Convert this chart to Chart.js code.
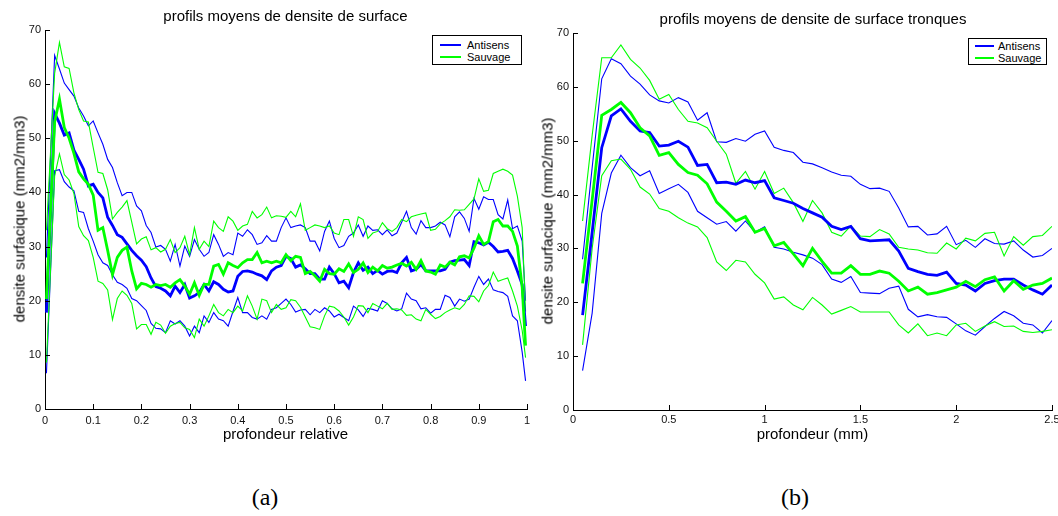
<!DOCTYPE html>
<html>
<head>
<meta charset="utf-8">
<script src="https://cdn.jsdelivr.net/npm/chart.js@4.4.1/dist/chart.umd.min.js"></script>
<style>
  html, body { margin: 0; padding: 0; background: #fff; }
  body { width: 1058px; height: 516px; overflow: hidden; position: relative;
         font-family: 'Liberation Sans', Arial, sans-serif; color: #000; }
  canvas { position: absolute; top: 0; }
  #chart-a { left: 0; }
  #chart-b { left: 548px; }
  .title, .xlabel { position: absolute; white-space: nowrap; font-size: 15px; line-height: 15px; transform: translateX(-50%); }
  .ylabel { position: absolute; white-space: nowrap; font-size: 15px; line-height: 15px; transform: translate(-50%, -50%) rotate(-90deg); }
  .caption { position: absolute; font-family: 'Liberation Serif', 'DejaVu Serif', serif; font-size: 24px; line-height: 24px; transform: translateX(-50%); }
  .legend { position: absolute; box-sizing: border-box; border: 1px solid #000; background: #fff; font-size: 11px; }
  .legend .ln { position: absolute; height: 2px; }
  .legend .tx { position: absolute; line-height: 12px; white-space: nowrap; }
</style>
</head>
<body>
<canvas id="chart-a" width="548" height="450"></canvas>
<canvas id="chart-b" width="520" height="450"></canvas>

<div class="title" style="left:285.5px;top:8px">profils moyens de densite de surface</div>
<div class="title" style="left:813px;top:11px">profils moyens de densite de surface tronques</div>
<div class="xlabel" style="left:285.5px;top:426px">profondeur relative</div>
<div class="xlabel" style="left:812.5px;top:426px">profondeur (mm)</div>
<div class="ylabel" style="left:18.5px;top:219px">densite surfacique (mm2/mm3)</div>
<div class="ylabel" style="left:546.5px;top:221px">densite surfacique (mm2/mm3)</div>
<div class="caption" style="left:265px;top:485px">(a)</div>
<div class="caption" style="left:795px;top:485px">(b)</div>

<div class="legend" style="left:432px;top:35px;width:90px;height:30px">
  <div class="ln" style="left:7px;width:21px;top:8px;background:#0000ff"></div>
  <div class="tx" style="left:34px;top:3px">Antisens</div>
  <div class="ln" style="left:7px;width:21px;top:20px;background:#00ff00"></div>
  <div class="tx" style="left:34px;top:15px">Sauvage</div>
</div>
<div class="legend" style="left:968px;top:38px;width:79px;height:27px">
  <div class="ln" style="left:6px;width:19px;top:6px;background:#0000ff"></div>
  <div class="tx" style="left:29px;top:1px">Antisens</div>
  <div class="ln" style="left:6px;width:19px;top:18px;background:#00ff00"></div>
  <div class="tx" style="left:29px;top:13px">Sauvage</div>
</div>

<script>
'use strict';

// ── (a) profondeur relative ──────────────────────────────────────────────────
const profRel = [
  0.003, 0.02, 0.03, 0.04, 0.05, 0.06, 0.07, 0.08, 0.09, 0.10,
  0.11, 0.12, 0.13, 0.14, 0.15, 0.16, 0.17, 0.18, 0.19, 0.20,
  0.21, 0.22, 0.23, 0.24, 0.25, 0.26, 0.27, 0.28, 0.29, 0.30,
  0.31, 0.32, 0.33, 0.34, 0.35, 0.36, 0.37, 0.38, 0.39, 0.40,
  0.41, 0.42, 0.43, 0.44, 0.45, 0.46, 0.47, 0.48, 0.49, 0.50,
  0.51, 0.52, 0.53, 0.54, 0.55, 0.56, 0.57, 0.58, 0.59, 0.60,
  0.61, 0.62, 0.63, 0.64, 0.65, 0.66, 0.67, 0.68, 0.69, 0.70,
  0.71, 0.72, 0.73, 0.74, 0.75, 0.76, 0.77, 0.78, 0.79, 0.80,
  0.81, 0.82, 0.83, 0.84, 0.85, 0.86, 0.87, 0.88, 0.89, 0.90,
  0.91, 0.92, 0.93, 0.94, 0.95, 0.96, 0.97, 0.98, 0.99, 0.997
];
const relAntisensHaut = [
  28, 65.3, 62.8, 60.2, 59.0, 57.8, 55.6, 54.1, 52.3, 53.2,
  51.0, 48.9, 46.1, 44.6, 41.8, 39.4, 40.0, 40.0, 37.5, 36.6,
  33.9, 32.6, 29.9, 30.2, 29.5, 27.3, 30.4, 26.4, 30.1, 28.2,
  31.3, 29.5, 28.2, 28.9, 32.2, 30.4, 28.2, 28.9, 28.5, 32.5,
  31.9, 33.1, 32.2, 30.4, 30.7, 32.0, 31.0, 31.0, 33.5, 35.3,
  33.5, 33.8, 34.0, 33.5, 31.0, 31.0, 29.2, 32.8, 34.7, 31.5,
  29.8, 30.2, 31.9, 32.5, 34.0, 31.9, 33.8, 33.0, 33.1, 32.2,
  33.1, 32.0, 32.5, 34.5, 36.5, 33.5, 32.3, 34.8, 33.5, 33.5,
  33.8, 34.5, 34.0, 31.8, 35.5, 36.4, 35.2, 32.8, 38.9, 36.9,
  39.2, 38.7, 38.7, 35.9, 35.1, 38.6, 33.3, 33.8, 31.0, 20.0
];
const relSauvageHaut = [
  33, 62, 67.7, 63.2, 62.9, 58.4, 55.3, 53.2, 53.0, 48.3,
  43.7, 43.5, 40.5, 35.1, 36.3, 37.3, 38.5, 34.5, 30.5, 31.4,
  31.8, 29.4, 29.8, 29.0, 29.5, 31.3, 28.9, 29.8, 31.9, 28.5,
  33.5, 29.5, 31.0, 30.0, 34.7, 33.5, 32.8, 35.5, 34.7, 33.0,
  33.8, 34.1, 36.5, 35.3, 35.9, 37.3, 35.3, 35.7, 35.6, 35.4,
  36.5, 35.5, 37.9, 33.0, 33.5, 34.0, 33.8, 33.5, 33.8, 32.5,
  32.2, 35.0, 35.0, 31.9, 35.5, 35.0, 31.5, 32.5, 32.8, 34.4,
  33.3, 32.8, 33.5, 35.0, 34.6, 35.5, 35.8, 36.0, 36.2, 33.0,
  33.2, 34.2, 34.8, 35.5, 36.8, 36.7, 36.8, 37.8, 38.8, 42.5,
  40.2, 40.4, 43.5, 43.9, 44.3, 43.9, 43.2, 39.3, 33.5, 18.0
];
const relAntisensMoy = [
  17.8, 54.6, 52.8, 50.6, 51.0, 47.8, 46.1, 44.3, 41.2, 41.5,
  40.0, 39.0, 35.4, 33.9, 32.2, 31.7, 30.5, 29.3, 28.3, 27.5,
  26.3, 24.2, 22.6, 22.3, 21.8, 20.9, 22.7, 21.5, 23.0, 20.5,
  20.9, 21.5, 23.0, 21.8, 23.5, 23.0, 22.1, 21.6, 21.8, 24.5,
  25.4, 25.5, 25.3, 24.9, 24.6, 23.9, 25.5, 26.2, 26.5, 28.2,
  27.8, 26.2, 26.6, 25.9, 25.0, 25.0, 24.0, 24.0, 26.2, 25.0,
  23.3, 23.6, 22.4, 25.2, 27.0, 25.6, 26.2, 25.0, 25.6, 24.9,
  25.4, 25.5, 25.2, 27.0, 28.0, 25.5, 25.8, 26.7, 25.5, 25.5,
  25.5, 25.5, 25.8, 27.1, 27.4, 27.5, 27.6, 26.5, 30.9, 30.7,
  30.3, 30.8, 30.0, 29.0, 29.1, 29.3, 27.8, 25.5, 23.0, 15.3
];
const relSauvageMoy = [
  20.3, 53.0, 57.2, 52.0, 50.0, 47.2, 43.8, 42.5, 41.5, 39.5,
  33.0, 33.5, 29.3, 24.8, 28.0, 29.3, 29.9, 25.5, 22.2, 23.2,
  23.0, 22.5, 23.0, 22.8, 23.0, 22.5, 23.3, 23.9, 22.7, 21.2,
  23.3, 21.0, 23.0, 23.0, 26.4, 26.7, 24.9, 27.0, 26.5, 26.1,
  27.0, 27.6, 27.6, 28.9, 27.0, 27.3, 27.0, 27.3, 27.0, 28.5,
  27.4, 28.2, 28.0, 25.0, 25.4, 24.6, 23.6, 25.8, 25.0, 24.9,
  25.9, 25.4, 26.8, 25.2, 25.8, 27.0, 25.2, 26.2, 25.5, 26.5,
  26.0, 26.2, 26.6, 26.9, 26.4, 27.1, 25.8, 27.4, 25.5, 25.3,
  24.9, 26.6, 26.2, 27.1, 26.6, 28.1, 28.3, 27.9, 29.7, 32.0,
  30.4, 30.9, 34.6, 35.0, 33.8, 33.8, 32.8, 30.1, 22.5, 11.7
];
const relSauvageBas = [
  8.6, 43.0, 47.1, 43.3, 42.3, 39.8, 33.7, 32.0, 31.1, 28.0,
  23.6, 23.2, 22.0, 16.5, 20.4, 21.8, 21.0, 19.5, 14.8, 15.6,
  15.6, 13.8, 16.0, 15.5, 14.0, 15.3, 15.8, 16.0, 15.0, 14.7,
  13.2, 16.6, 15.3, 17.2, 19.3, 17.8, 17.2, 18.4, 17.8, 19.0,
  18.1, 20.9, 19.0, 16.6, 20.3, 20.0, 17.8, 19.3, 18.4, 18.7,
  20.2, 20.0, 18.8, 17.0, 15.2, 15.0, 14.7, 17.2, 19.0, 18.8,
  18.1, 17.0, 15.5, 17.0, 19.1, 19.0, 17.8, 19.5, 19.0, 18.5,
  19.5, 18.4, 18.5, 18.3, 17.3, 17.4, 16.6, 16.3, 18.4, 17.5,
  16.7, 17.1, 17.8, 18.3, 18.7, 18.4, 19.3, 20.9, 20.8, 19.8,
  21.8, 22.8, 25.3, 23.6, 23.9, 24.2, 21.8, 19.0, 14.5, 9.5
];
const relAntisensBas = [
  6.6, 44.0, 44.2, 42.0, 41.0, 40.3, 36.5, 36.3, 33.3, 31.0,
  28.5, 27.0, 26.5, 24.8, 23.4, 23.0, 22.3, 20.4, 20.0, 19.1,
  18.2, 15.8, 14.9, 14.8, 14.1, 16.3, 15.7, 16.3, 15.3, 13.5,
  15.3, 14.1, 17.2, 16.0, 17.8, 16.6, 16.3, 15.3, 18.0, 20.6,
  17.8, 17.8, 16.9, 16.6, 17.2, 16.6, 18.4, 18.7, 19.5, 20.3,
  19.3, 17.9, 18.3, 18.4, 17.4, 18.4, 17.8, 18.7, 18.1, 17.0,
  17.5, 16.9, 16.3, 19.0, 18.3, 17.1, 18.6, 18.4, 18.1, 20.0,
  19.5, 18.5, 18.1, 18.5, 21.4, 20.3, 20.0, 18.5, 18.7, 17.7,
  18.4, 18.4, 21.0, 20.6, 19.0, 20.3, 19.9, 20.3, 22.5, 24.5,
  23.0, 24.0, 22.0, 21.7, 21.5, 20.8, 17.2, 16.3, 10.5, 5.2
];

// ── (b) profondeur en mm, profils tronques ───────────────────────────────────
const profMm = [
  0.05, 0.10, 0.15, 0.20, 0.25, 0.30, 0.35, 0.40, 0.45, 0.50,
  0.55, 0.60, 0.65, 0.70, 0.75, 0.80, 0.85, 0.90, 0.95, 1.00,
  1.05, 1.10, 1.15, 1.20, 1.25, 1.30, 1.35, 1.40, 1.45, 1.50,
  1.55, 1.60, 1.65, 1.70, 1.75, 1.80, 1.85, 1.90, 1.95, 2.00,
  2.05, 2.10, 2.15, 2.20, 2.25, 2.30, 2.35, 2.40, 2.45, 2.50
];
const trAntisensHaut = [
  28.0, 45.0, 61.5, 65.2, 64.3, 62.0, 60.5, 58.5, 57.4, 57.0,
  58.0, 57.2, 53.8, 55.2, 49.8, 49.7, 50.4, 49.9, 51.2, 51.8,
  48.8, 48.2, 47.8, 46.0, 45.7, 45.0, 44.2, 43.6, 43.4, 41.9,
  41.1, 41.2, 40.6, 37.5, 34.0, 34.1, 32.5, 32.7, 34.1, 30.7,
  31.5, 30.2, 31.8, 30.9, 30.8, 31.4, 29.7, 28.4, 28.7, 30.0
];
const trSauvageHaut = [
  35.1, 51.0, 65.4, 65.4, 67.8, 65.1, 63.5, 61.2, 57.7, 58.6,
  55.8, 53.6, 53.3, 52.4, 49.9, 47.5, 42.1, 44.3, 41.0, 44.3,
  40.2, 41.2, 38.5, 35.0, 38.9, 36.6, 33.0, 32.3, 34.2, 32.3,
  32.2, 33.5, 32.7, 30.2, 29.9, 29.7, 29.2, 29.1, 31.0, 29.9,
  31.9, 31.4, 32.8, 33.0, 28.6, 32.2, 30.6, 32.2, 32.4, 34.1
];
const trAntisensMoy = [
  17.6, 33.0, 48.7, 54.6, 55.9, 53.6, 51.8, 51.5, 49.0, 49.2,
  49.9, 48.8, 45.4, 45.6, 42.2, 42.3, 41.9, 42.7, 42.2, 42.6,
  39.4, 38.9, 38.4, 37.4, 36.6, 35.8, 34.1, 33.5, 34.1, 31.8,
  31.4, 31.5, 31.6, 29.5, 26.3, 25.7, 25.2, 25.0, 25.6, 23.5,
  23.2, 22.1, 23.5, 24.0, 24.3, 24.3, 23.2, 22.3, 21.5, 23.2
];
const trSauvageMoy = [
  23.5, 39.0, 54.7, 55.8, 57.1, 55.2, 52.4, 50.9, 47.3, 47.8,
  45.6, 44.1, 43.6, 42.0, 38.6, 36.9, 35.1, 35.9, 33.0, 33.7,
  30.5, 31.1, 29.0, 26.8, 30.0, 27.6, 25.4, 25.4, 26.8, 25.2,
  25.2, 25.8, 25.4, 23.9, 22.1, 22.8, 21.5, 21.8, 22.3, 22.8,
  23.9, 22.9, 24.2, 24.7, 22.1, 24.0, 22.4, 23.2, 23.5, 24.5
];
const trSauvageBas = [
  12.1, 30.0, 43.5, 46.3, 46.6, 44.7, 41.4, 40.1, 37.4, 36.9,
  35.7, 34.7, 34.0, 32.0, 27.5, 25.9, 27.8, 27.5, 25.2, 23.6,
  20.6, 21.0, 19.5, 18.6, 20.9, 19.5, 17.8, 18.5, 19.2, 18.2,
  18.2, 18.2, 18.2, 15.8, 14.3, 16.0, 13.8, 14.3, 13.8, 15.8,
  16.1, 14.6, 15.6, 16.4, 15.5, 15.6, 14.6, 14.4, 14.6, 14.9
];
const trAntisensBas = [
  7.3, 18.0, 36.5, 44.0, 47.3, 45.0, 43.5, 44.4, 40.2, 41.1,
  41.9, 40.4, 36.9, 35.7, 34.5, 35.0, 33.2, 35.1, 33.0, 34.0,
  30.2, 29.9, 29.3, 28.8, 28.2, 27.0, 24.3, 23.7, 24.8, 21.8,
  21.7, 21.6, 22.6, 23.0, 18.7, 17.3, 17.7, 17.3, 17.2, 16.0,
  14.7, 13.9, 15.5, 17.0, 18.3, 17.5, 16.1, 15.8, 14.3, 16.6
];

const yTicks = [0, 10, 20, 30, 40, 50, 60, 70];

// ── Helpers ──────────────────────────────────────────────────────────────────
const BLUE = '#0000ff';
const GREEN = '#00ff00';
const THICK = 2.8;
const THIN = 1.1;

function pts(xs, ys) { return xs.map((x, i) => ({ x, y: ys[i] })); }

function line(label, xs, ys, color, width) {
  return {
    label, data: pts(xs, ys),
    borderColor: color, backgroundColor: color,
    borderWidth: width, pointRadius: 0, tension: 0, fill: false,
  };
}

// Matlab-style tick marks pointing inward from the axis lines
const innerTicks = {
  id: 'innerTicks',
  afterDraw(chart) {
    const { ctx, chartArea } = chart;
    const sx = chart.scales.x, sy = chart.scales.y;
    ctx.save();
    ctx.strokeStyle = '#000';
    ctx.lineWidth = 1;
    ctx.beginPath();
    sx.ticks.forEach((t, i) => {
      const px = Math.round(sx.getPixelForTick(i)) + 0.5;
      ctx.moveTo(px, chartArea.bottom);
      ctx.lineTo(px, chartArea.bottom - 5);
    });
    sy.ticks.forEach((t, i) => {
      const py = Math.round(sy.getPixelForTick(i)) + 0.5;
      ctx.moveTo(chartArea.left, py);
      ctx.lineTo(chartArea.left + 5, py);
    });
    ctx.stroke();
    ctx.restore();
  }
};

const tickFont = { family: "'Liberation Sans', Arial, sans-serif", size: 11 };

function makeChart(id, xs, series, xOpts, box) {
  return new Chart(document.getElementById(id), {
    type: 'line',
    data: { datasets: series },
    options: {
      responsive: false,
      animation: false,
      devicePixelRatio: 1,
      layout: { padding: { left: 0, top: box.top, right: box.right, bottom: 0 } },
      plugins: { legend: { display: false }, tooltip: { enabled: false }, title: { display: false } },
      scales: {
        x: {
          type: 'linear',
          min: xOpts.min, max: xOpts.max,
          afterBuildTicks: s => { s.ticks = xOpts.ticks.map(v => ({ value: v })); },
          afterFit: s => { s.height = box.xh; },
          grid: { display: false, drawTicks: false, tickLength: 0 },
          border: { display: true, color: '#000', width: 1 },
          ticks: { color: '#111', font: tickFont, padding: box.xpad, maxRotation: 0, autoSkip: false,
                   callback: v => String(Math.round(v * 100) / 100) },
        },
        y: {
          type: 'linear',
          min: 0, max: 70,
          afterBuildTicks: s => { s.ticks = yTicks.map(v => ({ value: v })); },
          afterFit: s => { s.width = box.yw; },
          grid: { display: false, drawTicks: false, tickLength: 0 },
          border: { display: true, color: '#000', width: 1 },
          ticks: { color: '#111', font: tickFont, padding: 4 },
        },
      },
    },
    plugins: [innerTicks],
  });
}

// ── (a) ──────────────────────────────────────────────────────────────────────
makeChart('chart-a', profRel, [
  line('Sauvage', profRel, relSauvageMoy, GREEN, THICK),
  line('Antisens', profRel, relAntisensMoy, BLUE, THICK),
  line('Sauvage +', profRel, relSauvageHaut, GREEN, THIN),
  line('Sauvage -', profRel, relSauvageBas, GREEN, THIN),
  line('Antisens +', profRel, relAntisensHaut, BLUE, THIN),
  line('Antisens -', profRel, relAntisensBas, BLUE, THIN),
], { min: 0, max: 1, ticks: [0, 0.1, 0.2, 0.3, 0.4, 0.5, 0.6, 0.7, 0.8, 0.9, 1] },
   { top: 30, right: 21, xh: 41, yw: 45, xpad: 5 });

// ── (b) ──────────────────────────────────────────────────────────────────────
makeChart('chart-b', profMm, [
  line('Sauvage', profMm, trSauvageMoy, GREEN, THICK),
  line('Antisens', profMm, trAntisensMoy, BLUE, THICK),
  line('Sauvage +', profMm, trSauvageHaut, GREEN, THIN),
  line('Sauvage -', profMm, trSauvageBas, GREEN, THIN),
  line('Antisens +', profMm, trAntisensHaut, BLUE, THIN),
  line('Antisens -', profMm, trAntisensBas, BLUE, THIN),
], { min: 0, max: 2.5, ticks: [0, 0.5, 1, 1.5, 2, 2.5] },
   { top: 33, right: 16, xh: 40, yw: 25, xpad: 3 });
</script>
</body>
</html>
